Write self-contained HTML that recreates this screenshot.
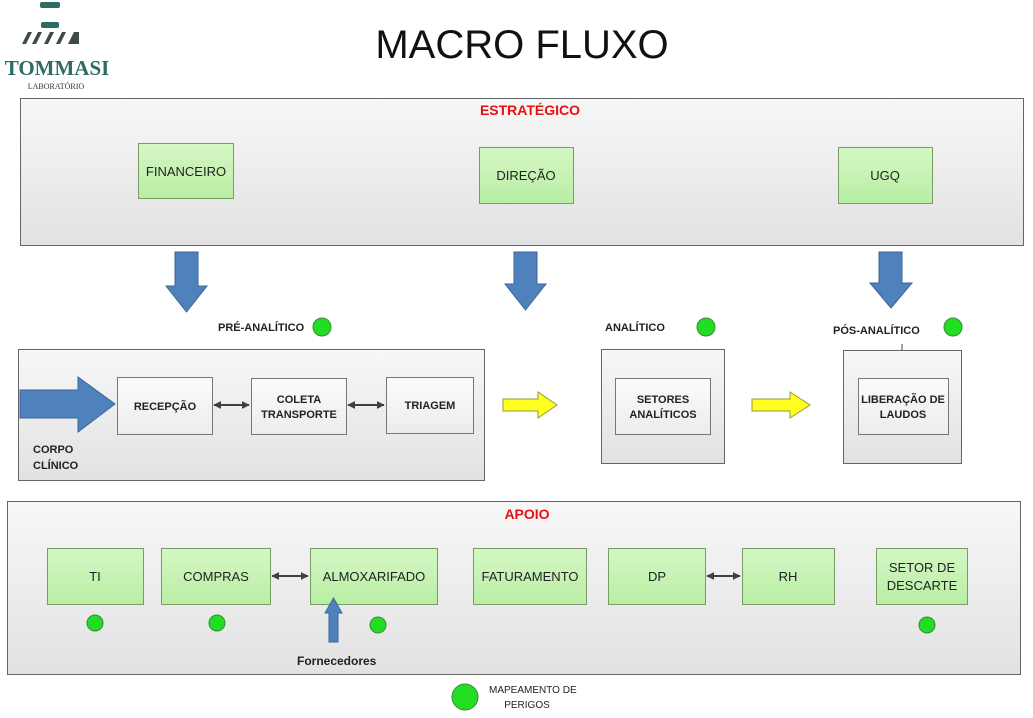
<!DOCTYPE html>
<html><head><meta charset="utf-8"><style>
html,body{margin:0;padding:0;background:#fff;}
svg{display:block;font-family:"Liberation Sans",sans-serif;}
</style></head><body>
<svg width="1033" height="718" viewBox="0 0 1033 718" xmlns="http://www.w3.org/2000/svg">
<defs>
<linearGradient id="gb" x1="0" y1="0" x2="0" y2="1"><stop offset="0" stop-color="#f7f7f7"/><stop offset="1" stop-color="#e2e2e2"/></linearGradient>
<linearGradient id="gg" x1="0" y1="0" x2="0" y2="1"><stop offset="0" stop-color="#d4f7c4"/><stop offset="1" stop-color="#b9eea4"/></linearGradient>
<linearGradient id="gw" x1="0" y1="0" x2="0" y2="1"><stop offset="0" stop-color="#fbfbfb"/><stop offset="1" stop-color="#ececec"/></linearGradient>
<marker id="ah" viewBox="0 0 10 10" refX="9" refY="5" markerWidth="4" markerHeight="4" orient="auto-start-reverse"><path d="M0,0L10,5L0,10z" fill="#404040"/></marker>
</defs>
<!-- logo -->
<rect x="40" y="2" width="20" height="6" rx="2" fill="#2e6b63"/>
<rect x="41" y="22" width="18" height="6" rx="2" fill="#2e6b63"/>
<g fill="#3f4a4a">
<polygon points="22,44 28,32 32,32 26,44"/><polygon points="32,44 38,32 42,32 36,44"/><polygon points="44,44 50,32 54,32 48,44"/><polygon points="56,44 62,32 66,32 60,44"/><polygon points="68,44 74,32 79,32 79,44"/>
</g>
<text x="57" y="75" font-family="Liberation Serif,serif" font-weight="bold" font-size="21" fill="#2e6b63" text-anchor="middle">TOMMASI</text>
<text x="56" y="89" font-family="Liberation Serif,serif" font-size="8" fill="#333" text-anchor="middle">LABORATÓRIO</text>
<text x="522" y="58" font-size="40" text-anchor="middle" fill="#111">MACRO FLUXO</text>

<!-- strategic -->
<rect x="20.5" y="98.5" width="1003" height="147" fill="url(#gb)" stroke="#666"/>
<text x="530" y="115" font-size="14" font-weight="bold" fill="#e81010" text-anchor="middle">ESTRATÉGICO</text>
<g stroke="#7a9a6a" fill="url(#gg)">
<rect x="138.5" y="143.5" width="95" height="55"/>
<rect x="479.5" y="147.5" width="94" height="56"/>
<rect x="838.5" y="147.5" width="94" height="56"/>
</g>
<g font-size="13" fill="#222" text-anchor="middle">
<text x="186" y="176">FINANCEIRO</text>
<text x="526" y="180">DIREÇÃO</text>
<text x="885" y="180">UGQ</text>
</g>
<g fill="#4f81bd" stroke="#3a6697">
<polygon points="175,252 198,252 198,286 207,286 186.5,312 166,286 175,286"/>
<polygon points="514,252 537,252 537,284 546,284 525.5,310 505,284 514,284"/>
<polygon points="879,252 902,252 902,283 912,283 891,308 870,283 879,283"/>
</g>

<!-- phase labels -->
<g font-size="11" font-weight="bold" fill="#222">
<text x="218" y="331">PRÉ-ANALÍTICO</text>
<text x="605" y="331">ANALÍTICO</text>
<text x="833" y="334">PÓS-ANALÍTICO</text>
</g>
<g fill="#22dd22" stroke="#3a8a3a">
<circle cx="322" cy="327" r="9"/><circle cx="706" cy="327" r="9"/><circle cx="953" cy="327" r="9"/>
</g>
<line x1="902" y1="344" x2="902" y2="351" stroke="#444"/>

<!-- pre box -->
<rect x="18.5" y="349.5" width="466" height="131" fill="url(#gb)" stroke="#666"/>
<polygon points="20,390 78,390 78,377 115,404 78,432 78,418 20,418" fill="#4f81bd" stroke="#3a6697"/>
<g stroke="#777" fill="url(#gw)">
<rect x="117.5" y="377.5" width="95" height="57"/>
<rect x="251.5" y="378.5" width="95" height="56"/>
<rect x="386.5" y="377.5" width="87" height="56"/>
</g>
<g font-size="11" font-weight="bold" fill="#222" text-anchor="middle">
<text x="165" y="410">RECEPÇÃO</text>
<text x="299" y="403">COLETA</text>
<text x="299" y="418">TRANSPORTE</text>
<text x="430" y="409">TRIAGEM</text>
</g>
<g font-size="11" font-weight="bold" fill="#222">
<text x="33" y="453">CORPO</text>
<text x="33" y="469">CLÍNICO</text>
</g>
<g stroke="#404040" stroke-width="2" marker-start="url(#ah)" marker-end="url(#ah)">
<line x1="214" y1="405" x2="249" y2="405"/>
<line x1="348" y1="405" x2="384" y2="405"/>
</g>

<!-- yellow arrows -->
<g fill="#ffff22" stroke="#999933">
<polygon points="503,399 538,399 538,392 557,405 538,418 538,411 503,411"/>
<polygon points="752,399 790,399 790,392 810,405 790,418 790,411 752,411"/>
</g>

<!-- analytic -->
<rect x="601.5" y="349.5" width="123" height="114" fill="url(#gb)" stroke="#666"/>
<rect x="615.5" y="378.5" width="95" height="56" fill="url(#gw)" stroke="#777"/>
<text x="663" y="403" font-size="11" font-weight="bold" fill="#222" text-anchor="middle">SETORES</text>
<text x="663" y="418" font-size="11" font-weight="bold" fill="#222" text-anchor="middle">ANALÍTICOS</text>
<rect x="843.5" y="350.5" width="118" height="113" fill="url(#gb)" stroke="#666"/>
<rect x="858.5" y="378.5" width="90" height="56" fill="url(#gw)" stroke="#777"/>
<text x="903" y="403" font-size="11" font-weight="bold" fill="#222" text-anchor="middle">LIBERAÇÃO DE</text>
<text x="903" y="418" font-size="11" font-weight="bold" fill="#222" text-anchor="middle">LAUDOS</text>

<!-- apoio -->
<rect x="7.5" y="501.5" width="1013" height="173" fill="url(#gb)" stroke="#666"/>
<text x="527" y="519" font-size="14" font-weight="bold" fill="#e81010" text-anchor="middle">APOIO</text>
<g stroke="#7a9a6a" fill="url(#gg)">
<rect x="47.5" y="548.5" width="96" height="56"/>
<rect x="161.5" y="548.5" width="109" height="56"/>
<rect x="310.5" y="548.5" width="127" height="56"/>
<rect x="473.5" y="548.5" width="113" height="56"/>
<rect x="608.5" y="548.5" width="97" height="56"/>
<rect x="742.5" y="548.5" width="92" height="56"/>
<rect x="876.5" y="548.5" width="91" height="56"/>
</g>
<g font-size="13" fill="#222" text-anchor="middle">
<text x="95" y="581">TI</text>
<text x="216" y="581">COMPRAS</text>
<text x="374" y="581">ALMOXARIFADO</text>
<text x="530" y="581">FATURAMENTO</text>
<text x="657" y="581">DP</text>
<text x="788" y="581">RH</text>
<text x="922" y="572">SETOR DE</text>
<text x="922" y="590">DESCARTE</text>
</g>
<g stroke="#404040" stroke-width="2" marker-start="url(#ah)" marker-end="url(#ah)">
<line x1="272" y1="576" x2="308" y2="576"/>
<line x1="707" y1="576" x2="740" y2="576"/>
</g>
<polygon points="329,642 338,642 338,613 342,613 333.5,598 325,613 329,613" fill="#4f81bd" stroke="#3a6697"/>
<text x="297" y="665" font-size="12" font-weight="bold" fill="#222">Fornecedores</text>
<g fill="#22dd22" stroke="#3a8a3a">
<circle cx="95" cy="623" r="8"/><circle cx="217" cy="623" r="8"/><circle cx="378" cy="625" r="8"/><circle cx="927" cy="625" r="8"/>
<circle cx="465" cy="697" r="13"/>
</g>
<text x="489" y="693" font-size="10" fill="#222">MAPEAMENTO DE</text>
<text x="527" y="708" font-size="10" fill="#222" text-anchor="middle">PERIGOS</text>
</svg>
</body></html>
